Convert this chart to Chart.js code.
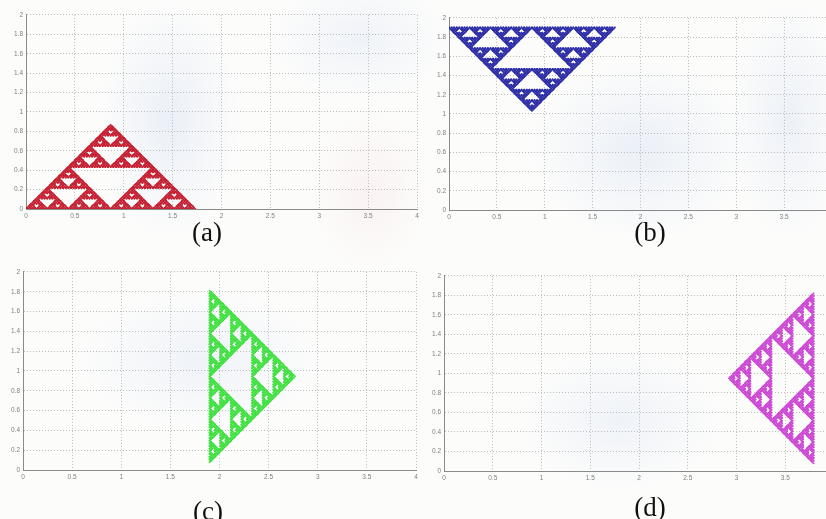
<!DOCTYPE html>
<html>
<head>
<meta charset="utf-8">
<title>Segitiga Sierpinski</title>
<script src="https://cdn.jsdelivr.net/npm/chart.js@4/dist/chart.umd.min.js"></script>
<style>
  html, body {
    margin: 0;
    padding: 0;
    width: 826px;
    height: 519px;
    overflow: hidden;
  }
  body {
    position: relative;
    background-color: #fcfcfb;
    background-image:
      radial-gradient(ellipse 70px 120px at 170px 120px, rgba(214, 224, 242, 0.45), rgba(214, 224, 242, 0) 100%),
      radial-gradient(ellipse 90px 60px at 360px 40px, rgba(214, 224, 242, 0.35), rgba(214, 224, 242, 0) 100%),
      radial-gradient(ellipse 60px 80px at 370px 190px, rgba(246, 222, 226, 0.35), rgba(246, 222, 226, 0) 100%),
      radial-gradient(ellipse 110px 90px at 640px 150px, rgba(214, 224, 242, 0.45), rgba(214, 224, 242, 0) 100%),
      radial-gradient(ellipse 60px 120px at 790px 120px, rgba(214, 224, 242, 0.4), rgba(214, 224, 242, 0) 100%),
      radial-gradient(ellipse 120px 70px at 200px 360px, rgba(214, 224, 242, 0.35), rgba(214, 224, 242, 0) 100%),
      radial-gradient(ellipse 100px 70px at 620px 420px, rgba(214, 224, 242, 0.35), rgba(214, 224, 242, 0) 100%);
  }
  canvas {
    position: absolute;
  }
  .caption {
    position: absolute;
    font-family: "Liberation Serif", "Times New Roman", serif;
    font-size: 27px;
    color: #111;
    transform: translateX(-50%);
    line-height: 1;
    white-space: nowrap;
  }
</style>
</head>
<body>
<canvas id="chartA"></canvas>
<canvas id="chartB"></canvas>
<canvas id="chartC"></canvas>
<canvas id="chartD"></canvas>
<div class="caption" style="left:207px; top:219px;">(a)</div>
<div class="caption" style="left:650px; top:219px;">(b)</div>
<div class="caption" style="left:208px; top:498px;">(c)</div>
<div class="caption" style="left:650px; top:494px;">(d)</div>

<script>
// sumbu
const xTicks = [0, 0.5, 1, 1.5, 2, 2.5, 3, 3.5, 4];
const xTickLabels = ['0', '0.5', '1', '1.5', '2', '2.5', '3', '3.5', '4'];
const yTicks = [0, 0.2, 0.4, 0.6, 0.8, 1, 1.2, 1.4, 1.6, 1.8, 2];
const yTickLabels = ['0', '0.2', '0.4', '0.6', '0.8', '1', '1.2', '1.4', '1.6', '1.8', '2'];

// titik sudut segitiga tiap gambar
const sudutA = [[0, 0], [1.732, 0], [0.866, 0.866]];
const sudutB = [[0, 1.9], [1.732, 1.9], [0.866, 1.034]];
const sudutC = [[1.9, 0.08], [1.9, 1.81], [2.766, 0.945]];
const sudutD = [[3.79, 0.08], [3.79, 1.82], [2.924, 0.95]];

// tingkat iterasi
const iterasi = 6;

const warnaA = '#c41e30';
const warnaB = '#2c2ca6';
const warnaC = '#3ee03e';
const warnaD = '#cc46d4';

function tengah(p, q) {
    return [(p[0] + q[0]) / 2, (p[1] + q[1]) / 2];
}

// bagi segitiga secara rekursif, simpan ketiga sudut segitiga terkecil
function sierpinski(a, b, c, n, hasil) {
    if (n === 0) {
        hasil.push({ x: a[0], y: a[1] }, { x: b[0], y: b[1] }, { x: c[0], y: c[1] });
        return hasil;
    }
    const ab = tengah(a, b);
    const bc = tengah(b, c);
    const ca = tengah(c, a);
    sierpinski(a, ab, ca, n - 1, hasil);
    sierpinski(ab, b, bc, n - 1, hasil);
    sierpinski(ca, bc, c, n - 1, hasil);
    return hasil;
}

const Y_AXIS_W = 26;
const X_AXIS_H = 14;
const PAD_TOP = 6;
const PAD_RIGHT = 8;

function gambar(id, sudut, warna, area) {
    const canvas = document.getElementById(id);
    const w = Math.round(area.right - area.left) + Y_AXIS_W + PAD_RIGHT;
    const h = Math.round(area.bottom - area.top) + PAD_TOP + X_AXIS_H;
    canvas.width = w;
    canvas.height = h;
    canvas.style.left = Math.round(area.left - Y_AXIS_W) + 'px';
    canvas.style.top = Math.round(area.top - PAD_TOP) + 'px';

    const titik = sierpinski(sudut[0], sudut[1], sudut[2], iterasi, []);

    const tickFont = { family: '"Liberation Sans", Arial, sans-serif', size: 6.5 };

    return new Chart(canvas.getContext('2d'), {
        type: 'scatter',
        data: {
            datasets: [{
                data: titik,
                backgroundColor: warna,
                borderWidth: 0,
                pointRadius: 1.05,
                pointHoverRadius: 1.05
            }]
        },
        options: {
            responsive: false,
            animation: false,
            events: [],
            layout: { padding: { top: PAD_TOP, right: PAD_RIGHT, left: 0, bottom: 0 } },
            plugins: {
                legend: { display: false },
                tooltip: { enabled: false }
            },
            scales: {
                x: {
                    type: 'linear',
                    min: 0,
                    max: 4,
                    afterBuildTicks: s => { s.ticks = xTicks.map(v => ({ value: v })); },
                    afterFit: s => { s.height = X_AXIS_H; },
                    ticks: {
                        autoSkip: false,
                        maxRotation: 0,
                        padding: 3,
                        color: '#808080',
                        font: tickFont,
                        callback: (v, i) => xTickLabels[i]
                    },
                    grid: { color: '#bcbcbc', lineWidth: 1, drawTicks: false },
                    border: { display: true, color: '#8a8a8a', width: 1, dash: [1, 2] }
                },
                y: {
                    type: 'linear',
                    min: 0,
                    max: 2,
                    afterBuildTicks: s => { s.ticks = yTicks.map(v => ({ value: v })); },
                    afterFit: s => { s.width = Y_AXIS_W; },
                    ticks: {
                        autoSkip: false,
                        padding: 3,
                        color: '#808080',
                        font: tickFont,
                        callback: (v, i) => yTickLabels[i]
                    },
                    grid: { color: '#bcbcbc', lineWidth: 1, drawTicks: false },
                    border: { display: true, color: '#8a8a8a', width: 1, dash: [1, 2] }
                }
            }
        }
    });
}

gambar('chartA', sudutA, warnaA, { left: 26, right: 416.7, top: 14, bottom: 209.3 });
gambar('chartB', sudutB, warnaB, { left: 449.3, right: 832, top: 16.7, bottom: 209.3 });
gambar('chartC', sudutC, warnaC, { left: 23.3, right: 416.7, top: 271, bottom: 470 });
gambar('chartD', sudutD, warnaD, { left: 444, right: 834, top: 275, bottom: 471 });
</script>
</body>
</html>
